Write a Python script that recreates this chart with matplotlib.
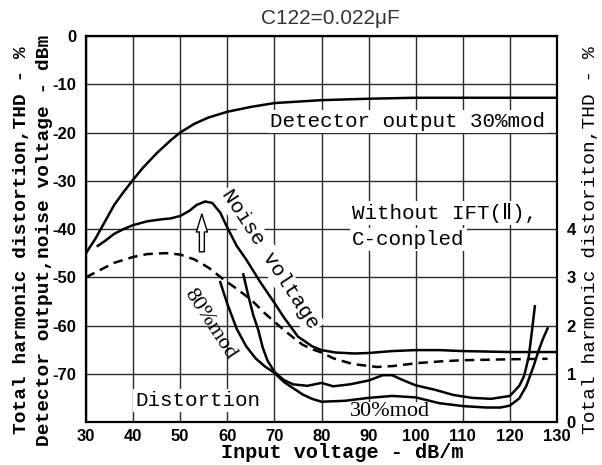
import matplotlib
matplotlib.use("Agg")
import matplotlib.pyplot as plt

# ---------------- data ----------------
x_ticks = [30, 40, 50, 60, 70, 80, 90, 100, 110, 120, 130]
y_ticks = [0, -10, -20, -30, -40, -50, -60, -70]
thd_ticks = [0, 1, 2, 3, 4]

# Detector output 30% mod (dBm)
det_x = [30, 32, 34, 36, 38, 40, 42, 45, 48, 50, 53, 56, 60, 65, 70, 75, 80, 90, 100, 110, 120, 130]
det_y = [-45, -42, -38.5, -35, -32.3, -29.8, -27.4, -24.3, -21.6, -20, -18.2, -16.9, -15.7, -14.7,
         -13.9, -13.6, -13.3, -13.0, -12.8, -12.8, -12.8, -12.8]

# Noise voltage (dBm)
noise_x = [32.5, 34, 36, 38, 40, 43, 46, 48, 50, 52, 53.5, 55.3, 56.8, 58.5, 60, 62, 64, 67, 70, 72,
           75, 78, 80, 83, 87, 90, 95, 100, 105, 110, 120, 130]
noise_y = [-43.5, -42.5, -41, -40, -39.2, -38.4, -38, -37.8, -37.3, -36.2, -35, -34.3, -34.6, -36.6,
           -39.7, -43.5, -46.3, -51, -55.3, -58.3, -62.3, -64.3, -65.1, -65.6, -65.8, -65.7, -65.3,
           -65.1, -65.1, -65.3, -65.5, -65.5]

# Dashed curve (dBm)
dash_x = [30, 33, 36, 40, 43, 47, 50, 53, 56, 59, 62, 65, 68, 71.5, 74, 76, 78, 80, 82.5, 86.7,
          91.8, 95.2, 100.3, 105.8, 110, 120, 128]
dash_y = [-50, -48.5, -47, -45.8, -45.2, -45, -45.3, -46.3, -48, -50.3, -52.4, -54.6, -57.5, -60.5,
          -62.5, -64, -64.9, -65.6, -66.8, -68, -68.6, -68.4, -67.8, -67.4, -67.2, -67, -66.9]

# Distortion curves (THD %)
distA_x = [58.5, 60, 62, 64, 66, 68, 70, 72, 74, 76, 78, 80, 85, 90, 95, 100, 105, 110, 115, 118,
           120, 122, 123.5, 125, 126, 127, 128]
distA_thd = [2.90, 2.45, 1.93, 1.57, 1.32, 1.15, 1.02, 0.83, 0.70, 0.57, 0.48, 0.42, 0.44, 0.50,
             0.54, 0.51, 0.39, 0.33, 0.30, 0.30, 0.34, 0.49, 0.75, 1.15, 1.45, 1.72, 1.94]

distB_x = [63.4, 64.5, 65.5, 66.6, 67.5, 68.5, 70, 72, 74, 77, 80, 82.5, 86, 90, 93, 95, 97, 100,
           104, 108, 112, 116, 120, 122, 123, 124, 124.7, 125.3]
distB_thd = [3.06, 2.60, 2.22, 1.90, 1.55, 1.28, 1.04, 0.87, 0.78, 0.75, 0.81, 0.74, 0.78, 0.86,
             0.97, 0.97, 0.88, 0.76, 0.67, 0.56, 0.50, 0.48, 0.54, 0.75, 0.95, 1.35, 1.90, 2.40]

# ---------------- figure ----------------
MONO = ["Liberation Mono", "DejaVu Sans Mono", "DejaVu Sans"]
SERIF = ["Liberation Serif", "DejaVu Serif"]
SANS = ["Liberation Sans", "DejaVu Sans"]

fig = plt.figure(figsize=(6.02, 4.65), dpi=100)
ax = fig.add_axes([86 / 602, 1 - 422 / 465, (557 - 86) / 602, (422 - 36) / 465])
ax.set_xlim(30, 130)
ax.set_ylim(-80, 0)
ax.set_xticks(x_ticks)
ax.set_yticks(y_ticks + [-80])
ax.set_yticklabels([str(v) for v in y_ticks] + [""])
ax.set_axisbelow(True)
ax.grid(True, color="#2a2a2a", lw=1.0)
for s in ax.spines.values():
    s.set_linewidth(1.6)
    s.set_color("black")
ax.tick_params(axis="both", length=0, labelsize=12)
ax.tick_params(axis="y", pad=7)
ax.tick_params(axis="x", pad=5)
for lab in ax.get_xticklabels() + ax.get_yticklabels():
    lab.set_fontfamily(SANS)
    lab.set_fontweight("bold")

lw = 1.8
ax.plot(det_x, det_y, color="black", lw=lw, zorder=3)
ax.plot(noise_x, noise_y, color="black", lw=lw, zorder=3)
ax.plot(dash_x, dash_y, color="black", lw=lw, ls=(0, (3.8, 2.4)), zorder=3)

ax2 = ax.twinx()
ax2.set_ylim(0, 8)
ax2.set_yticks(thd_ticks)
ax2.tick_params(axis="y", length=0, labelsize=12, pad=7)
for lab in ax2.get_yticklabels():
    lab.set_fontfamily(SANS)
    lab.set_fontweight("bold")
for s in ax2.spines.values():
    s.set_visible(False)
ax2.plot(distA_x, distA_thd, color="black", lw=lw, zorder=3)
ax2.plot(distB_x, distB_thd, color="black", lw=lw, zorder=3)

# ---------------- annotations ----------------
wbox = dict(facecolor="white", edgecolor="none", pad=1.5)
ax.text(69.1, -17.8, "Detector output 30%mod", family=MONO, fontsize=15,
        ha="left", va="center", bbox=wbox, zorder=2)
ax.text(86.5, -36.6, "Without IFT(Ⅱ),", family=MONO, fontsize=15,
        ha="left", va="center", bbox=wbox, zorder=2)
ax.text(86.5, -42.2, "C-conpled", family=MONO, fontsize=15,
        ha="left", va="center", bbox=wbox, zorder=2)
ax.text(40.4, -75.6, "Distortion", family=MONO, fontsize=15,
        ha="left", va="center", bbox=wbox, zorder=2)
ax.text(69.1, -46.3, "Noise voltage", family=MONO, fontsize=15, rotation=-57,
        rotation_mode="anchor", ha="center", va="center", bbox=wbox, zorder=2)
ax.text(56.3, -59.7, "80%mod", family=SERIF, fontsize=16, rotation=-57,
        rotation_mode="anchor", ha="center", va="center", zorder=2)
ax.text(94.5, -77.9, "30%mod", family=SERIF, fontsize=16,
        ha="center", va="center", bbox=dict(facecolor="white", edgecolor="none", pad=0.5), zorder=2)

ax.annotate("", xy=(54.6, -36.3), xytext=(54.6, -45.3),
            arrowprops=dict(arrowstyle="simple,head_length=1.3,head_width=0.8,tail_width=0.36",
                            fc="white", ec="black", lw=1.0), zorder=4)

# ---------------- titles / labels ----------------
fig.text(330 / 602, 1 - 18 / 465, "C122=0.022μF", family=SANS, fontsize=15,
         color="#333333", ha="center", va="center")
fig.text(22 / 602, 1 - 240 / 465, "Total harmonic distortion,THD - %", family=MONO,
         fontsize=14, fontweight="bold", rotation=90, ha="center", va="center")
fig.text(45 / 602, 1 - 240 / 465, "Detector output,noise voltage - dBm", family=MONO,
         fontsize=14, fontweight="bold", rotation=90, ha="center", va="center")
fig.text(590 / 602, 1 - 240 / 465, "Total harmonic distoriton,THD - %", family=MONO,
         fontsize=14, rotation=90, ha="center", va="center")
fig.text(342 / 602, 1 - 452 / 465, "Input voltage - dB/m", family=MONO,
         fontsize=14.5, fontweight="bold", ha="center", va="center")

fig.savefig("out.png", dpi=100)
